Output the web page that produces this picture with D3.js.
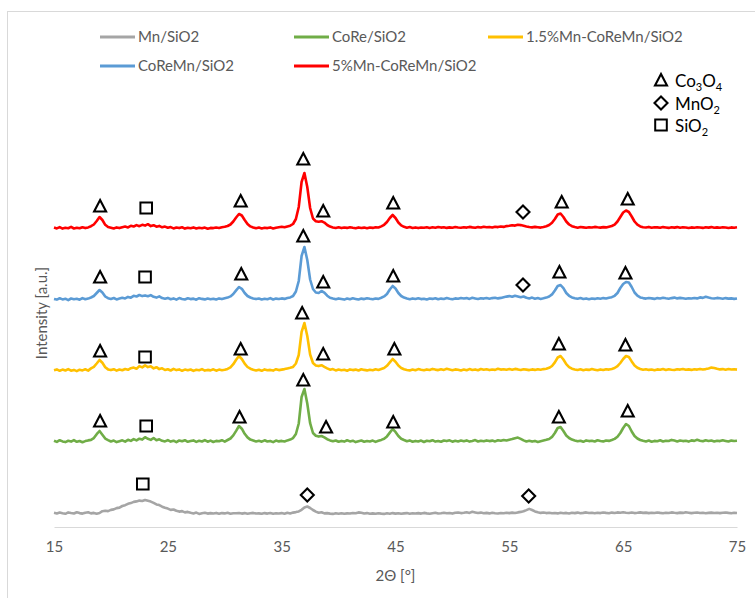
<!DOCTYPE html>
<html>
<head>
<meta charset="utf-8">
<script src="https://cdn.jsdelivr.net/npm/d3@7"></script>
<style>
  body { margin: 0; background: #fff; }
  text { font-family: Lato, "Liberation Sans", sans-serif; }
</style>
</head>
<body>
<svg id="chart" width="755" height="598"></svg>
<script>
// XRD patterns, 2θ from 15° to 75° in 0.25° steps (intensity in a.u.)
const thetaStart = 15;
const thetaStep = 0.25;

const mnSiO2 = [
  14.2, 13.6, 14.5, 13.8, 13.2, 14.6, 14.0, 13.5,
  14.8, 13.9, 13.4, 14.3, 14.7, 13.6, 14.1, 13.3,
  14.0, 15.8, 16.2, 15.9, 17.1, 17.6, 18.9, 19.4,
  21.0, 21.8, 23.2, 23.9, 25.1, 25.6, 26.4, 26.0,
  27.0, 26.2, 25.4, 24.1, 22.6, 21.9, 20.3, 19.2,
  18.4, 17.1, 17.5, 16.2, 15.4, 15.9, 14.6, 15.1,
  14.2, 13.6, 14.4, 13.1, 13.8, 14.3, 13.4, 13.9,
  13.5, 14.1, 13.2, 13.9, 13.6, 14.2, 13.3, 13.8,
  13.7, 14.0, 13.4, 13.9, 13.2, 13.8, 14.1, 13.5,
  13.6, 13.2, 13.9, 13.4, 14.0, 13.3, 13.8, 13.5,
  13.9, 13.3, 14.2, 13.6, 14.4, 14.9, 15.6, 17.2,
  19.6, 20.5, 19.0, 17.0, 15.4, 14.3, 14.8, 13.6,
  13.9, 13.4, 13.1, 13.7, 13.3, 13.8, 13.2, 13.6,
  13.5, 14.0, 13.7, 14.6, 14.2, 13.5, 13.9, 13.3,
  13.6, 13.2, 13.8, 13.4, 13.1, 13.7, 13.3, 13.9,
  13.4, 13.8, 13.2, 13.6, 13.9, 13.3, 13.7, 13.5,
  13.9, 13.4, 14.1, 13.6, 13.3, 13.8, 14.2, 13.5,
  13.8, 14.3, 13.7, 14.0, 13.4, 14.2, 14.5, 13.9,
  14.3, 14.8, 14.1, 15.2, 14.6, 14.0, 14.4, 13.8,
  14.1, 13.6, 14.2, 13.8, 13.5, 14.0, 13.7, 14.3,
  13.9, 14.4, 14.0, 14.6, 15.1, 15.8, 16.9, 18.1,
  17.0, 15.6, 14.7, 14.1, 14.5, 13.9, 14.2, 13.7,
  14.0, 13.6, 14.3, 13.8, 14.1, 13.5, 14.2, 13.9,
  14.4, 13.7, 14.1, 14.6, 14.0, 14.3, 13.8, 14.2,
  13.9, 14.5, 14.1, 13.8, 14.4, 14.0, 14.6, 14.2,
  14.7, 14.3, 14.0, 14.5, 13.9, 14.2, 14.6, 14.1,
  14.4, 13.9, 14.3, 14.0, 14.5, 14.1, 13.8, 14.3,
  14.0, 14.6, 14.2, 13.9, 14.4, 14.1, 14.7, 14.3,
  13.9, 14.2, 14.5, 14.0, 14.3, 13.8, 14.1, 14.4,
  14.0, 14.3, 13.9, 14.2, 14.5, 14.1, 13.8, 14.2, 14.0
];

const coReSiO2 = [
  14.3, 13.1, 14.8, 13.6, 12.9, 14.2, 13.4, 14.9,
  13.2, 14.0, 12.8, 13.9, 14.6, 15.1, 16.9, 20.8,
  24.0, 20.3, 16.4, 14.9, 13.5, 14.4, 12.9, 13.8,
  14.7, 13.3, 15.2, 14.1, 15.9, 14.6, 16.3, 15.4,
  17.8, 16.2, 15.1, 17.0, 14.8, 15.7, 14.2, 13.6,
  14.9, 13.4, 14.3, 12.9, 14.5, 13.7, 14.8, 13.2,
  13.9, 14.6, 13.1, 14.2, 13.5, 14.9, 13.3, 14.4,
  13.0, 14.1, 13.7, 14.8, 13.4, 15.0, 16.5, 19.6,
  24.1, 29.0, 26.3, 21.2, 17.6, 15.4, 14.5, 13.6,
  14.2, 13.3, 14.7, 13.5, 14.0, 12.9, 14.4, 13.6,
  14.1, 13.5, 14.6, 15.4, 16.9, 21.0, 31.5, 58.0,
  66.0, 51.5, 31.8, 22.0, 19.2, 18.4, 19.0, 17.6,
  15.8, 14.6, 13.8, 14.5, 13.2, 14.1, 13.4, 14.7,
  13.6, 14.3, 12.9, 13.8, 14.5, 13.3, 14.0, 13.5,
  14.4, 13.1, 14.2, 15.1, 16.2, 18.6, 22.4, 26.0,
  23.1, 19.0, 16.3, 15.0, 13.8, 14.6, 13.3, 14.1,
  13.5, 14.4, 13.0, 14.2, 13.7, 14.8, 13.4, 14.0,
  13.2, 14.5, 13.9, 14.7, 13.3, 14.2, 13.6, 14.4,
  13.8, 14.6, 13.4, 14.1, 14.9, 13.5, 14.3, 13.7,
  14.6, 13.9, 14.4, 13.6, 14.8, 14.2, 15.0, 14.5,
  15.3, 15.9, 16.8, 17.4, 16.1, 14.6, 13.5, 14.2,
  13.4, 14.1, 13.0, 13.8, 14.5, 15.2, 16.0, 18.1,
  22.0, 27.0, 28.0, 24.0, 19.5, 17.0, 15.4, 14.5,
  13.7, 14.3, 13.2, 14.6, 13.9, 14.2, 13.5, 14.8,
  14.0, 13.6, 14.5, 14.1, 15.0, 16.1, 18.2, 22.0,
  27.0, 31.0, 29.0, 23.5, 19.0, 16.5, 15.0, 14.2,
  13.6, 14.5, 13.3, 14.1, 13.8, 14.7, 13.5, 14.3,
  14.0, 15.1, 14.4, 13.6, 14.5, 13.9, 14.2, 13.4,
  14.6, 14.1, 15.2, 14.3, 13.7, 14.8, 14.0, 14.5,
  13.6, 14.3, 13.9, 14.7, 14.1, 13.5, 14.4, 14.0, 14.2
];

const mn15CoReMnSiO2 = [
  13.8, 14.6, 13.2, 14.4, 13.5, 14.9, 13.3, 14.1,
  12.9, 14.3, 13.6, 14.7, 13.4, 15.6, 17.2, 20.5,
  24.0, 21.2, 16.8, 14.6, 13.9, 14.8, 13.4, 14.5,
  13.7, 15.0, 14.2, 15.8, 16.4, 15.2, 17.9, 16.6,
  18.6, 16.9, 17.7, 15.6, 16.8, 14.9, 15.7, 14.0,
  14.8, 13.5, 15.1, 13.9, 14.6, 13.2, 14.4, 13.7,
  14.5, 13.1, 14.2, 13.8, 14.9, 13.4, 14.1, 13.6,
  14.7, 13.3, 14.4, 13.8, 14.2, 15.1, 16.6, 19.8,
  24.2, 28.0, 25.0, 20.4, 17.0, 15.3, 14.2, 13.5,
  14.3, 13.2, 14.6, 13.7, 14.1, 13.4, 14.8, 13.9,
  14.4, 14.9, 15.6, 16.2, 17.1, 20.5, 29.0, 52.0,
  61.0, 48.0, 29.5, 21.0, 18.6, 17.9, 18.8, 17.2,
  15.7, 14.3, 14.9, 13.6, 14.5, 13.8, 14.2, 13.3,
  14.6, 13.9, 14.4, 13.5, 14.8, 14.1, 13.6, 14.3,
  13.8, 14.7, 14.0, 15.0, 16.0, 18.2, 21.6, 25.0,
  22.3, 18.4, 16.0, 14.7, 14.0, 13.6, 14.5, 13.8,
  14.9, 14.2, 13.7, 14.6, 14.0, 15.1, 14.4, 13.9,
  14.8, 14.1, 15.2, 14.5, 13.8, 14.6, 14.2, 13.5,
  14.4, 13.7, 14.9, 14.0, 14.6, 13.8, 15.0, 14.3,
  14.7, 13.9, 14.5, 14.1, 15.2, 14.4, 14.8, 14.2,
  14.9, 14.3, 15.1, 14.6, 14.0, 14.8, 14.4, 13.9,
  14.6, 14.1, 14.8, 14.3, 14.9, 15.3, 16.2, 18.0,
  21.6, 26.5, 28.0, 24.5, 19.8, 16.9, 15.3, 14.6,
  14.0, 14.7, 13.8, 14.4, 14.1, 14.9, 14.3, 13.7,
  14.6, 14.0, 14.8, 14.4, 15.1, 16.0, 17.8, 21.0,
  25.0, 28.0, 27.0, 22.6, 18.5, 16.2, 15.0, 14.3,
  14.8, 14.1, 14.5, 13.8, 14.6, 14.2, 14.9, 14.0,
  14.7, 14.3, 14.0, 14.8, 14.4, 15.0, 14.2, 14.6,
  14.1, 14.8, 14.4, 15.1, 14.5, 14.9, 15.6, 16.4,
  16.0, 15.2, 14.6, 14.9, 14.3, 15.0, 14.5, 14.8, 14.4
];

const coReMnSiO2 = [
  14.1, 13.4, 14.7, 13.6, 14.3, 12.9, 14.5, 13.8,
  14.2, 13.3, 14.9, 13.7, 14.4, 15.5, 17.0, 20.0,
  23.0, 20.5, 16.5, 14.8, 14.1, 15.0, 13.6, 14.4,
  15.2, 14.6, 16.1, 15.3, 17.2, 16.5, 18.0, 16.9,
  17.6, 16.8, 17.9, 16.2, 15.4, 16.6, 14.9, 14.3,
  15.1, 13.8, 14.6, 13.4, 14.9, 14.0, 13.5, 14.7,
  13.9, 14.4, 13.3, 14.8, 14.1, 13.6, 14.5, 13.8,
  14.3, 13.5, 14.6, 13.9, 14.7, 15.4, 16.6, 19.0,
  22.6, 26.0, 24.2, 20.0, 17.0, 15.5, 14.6, 13.9,
  14.5, 13.6, 14.2, 13.8, 14.9, 13.5, 14.4, 14.0,
  14.6, 14.1, 15.0, 15.6, 17.0, 21.5, 32.0, 57.0,
  66.0, 53.0, 33.5, 24.0, 20.5, 20.0, 22.0, 20.4,
  17.3, 15.2, 14.4, 13.7, 14.6, 14.0, 13.4, 14.5,
  13.8, 14.7, 14.1, 13.5, 14.4, 13.9, 14.8, 14.2,
  13.7, 14.5, 14.1, 15.3, 16.6, 19.0, 23.5, 27.0,
  24.5, 20.0, 17.0, 15.4, 14.4, 13.8, 14.6, 14.0,
  14.7, 13.9, 14.3, 13.6, 14.5, 14.1, 14.8, 13.7,
  14.4, 14.0, 14.9, 14.2, 13.8, 14.6, 14.3, 15.0,
  14.5, 14.9, 14.1, 15.2, 14.6, 14.0, 14.8, 14.4,
  15.0, 14.3, 14.9, 15.3, 14.6, 15.1, 15.8, 16.4,
  16.9, 16.2, 17.3, 16.6, 15.8, 16.5, 15.2, 14.6,
  15.4, 14.3, 14.9, 14.1, 14.7, 15.4, 16.5, 18.6,
  22.5, 27.0, 28.0, 24.8, 20.0, 17.2, 15.6, 14.8,
  14.2, 14.9, 14.0, 14.6, 13.8, 14.5, 14.1, 14.8,
  14.3, 14.9, 14.5, 15.2, 15.8, 17.2, 20.0, 25.0,
  29.0, 31.0, 30.5, 26.0, 20.5, 17.4, 15.6, 14.9,
  14.4, 15.0, 14.6, 14.1, 14.9, 14.5, 15.2, 14.7,
  14.3, 14.9, 15.4, 14.6, 15.1, 14.7, 14.2, 14.8,
  14.5, 15.0, 14.6, 15.6, 15.1, 16.2, 15.4, 14.8,
  14.5, 15.1, 14.7, 14.3, 14.9, 14.4, 14.6, 14.1, 14.5
];

const mn5CoReMnSiO2 = [
  14.5, 13.6, 14.9, 13.4, 14.2, 13.8, 15.1, 13.5,
  14.3, 13.7, 14.8, 13.9, 14.6, 15.8, 17.5, 21.0,
  25.0, 22.0, 17.2, 15.0, 14.3, 13.5, 14.6, 13.9,
  14.8, 15.4, 14.6, 16.2, 15.5, 16.9, 15.8, 17.2,
  16.4, 17.8, 15.9, 16.8, 15.3, 16.1, 14.7, 15.4,
  14.2, 14.9, 13.6, 14.5, 13.9, 14.7, 13.4, 14.3,
  13.8, 14.6, 13.5, 14.2, 13.7, 14.4, 13.3, 14.1,
  13.9, 14.5, 14.0, 14.8, 15.2, 16.0, 17.5, 20.5,
  24.5, 28.0, 26.5, 22.0, 18.0, 15.6, 14.5, 13.8,
  14.4, 13.6, 14.2, 13.9, 14.6, 13.5, 14.3, 14.8,
  15.2, 14.7, 15.6, 16.3, 18.0, 23.0, 35.0, 60.0,
  69.0, 55.0, 34.0, 23.5, 20.8, 20.2, 20.8, 19.4,
  17.0, 15.4, 14.6, 14.0, 14.7, 13.9, 14.5, 14.1,
  14.8, 14.2, 13.7, 14.6, 14.0, 14.4, 13.8, 14.5,
  14.1, 14.8, 14.5, 15.6, 17.2, 20.0, 24.0, 27.0,
  24.0, 19.5, 16.6, 15.2, 14.3, 14.9, 14.0, 14.6,
  13.9, 14.5, 14.2, 14.8, 14.1, 14.7, 14.3, 15.0,
  14.4, 14.8, 14.1, 14.6, 14.3, 15.0, 14.5, 14.2,
  14.8, 14.4, 15.1, 14.6, 14.2, 14.9, 14.5, 15.2,
  14.7, 15.0, 14.5, 15.3, 14.9, 15.5, 15.1, 15.9,
  16.2, 16.8, 16.4, 17.2, 16.9, 16.3, 15.6, 15.0,
  14.6, 15.1, 14.8, 14.4, 15.0, 15.8, 17.0, 19.2,
  23.0, 27.5, 28.5, 25.0, 20.5, 17.5, 15.8, 14.9,
  14.3, 15.0, 14.6, 14.2, 14.8, 14.5, 15.1, 14.7,
  14.4, 14.9, 14.6, 15.3, 16.0, 17.4, 20.5, 25.0,
  29.5, 31.5, 30.0, 25.5, 20.5, 17.3, 15.6, 14.8,
  14.5, 15.1, 14.3, 14.8, 14.6, 14.2, 14.9, 14.5,
  14.1, 14.7, 14.4, 14.9, 14.2, 14.8, 14.5, 14.0,
  14.6, 14.3, 14.8, 14.5, 14.1, 14.7, 14.4, 14.9,
  14.2, 14.6, 14.3, 14.8, 14.5, 14.0, 14.6, 14.3, 14.7
];

// Vertical stacking offset of each pattern (a.u.)
const seriesNames = ["Mn/SiO2", "CoRe/SiO2", "1.5%Mn-CoReMn/SiO2", "CoReMn/SiO2", "5%Mn-CoReMn/SiO2"];
const seriesData = [mnSiO2, coReSiO2, mn15CoReMnSiO2, coReMnSiO2, mn5CoReMnSiO2];
const stackOffsets = [0, 72, 143, 214, 285];
const seriesColors = ["#A5A5A5", "#70AD47", "#FFC000", "#5B9BD5", "#FF0000"];

// Phase assignments: [phase, 2θ, intensity of the symbol] per pattern
const marksMnSiO2 = [["SiO2", 22.8, 43], ["MnO2", 37.25, 32], ["MnO2", 56.7, 31]];
const marksCoReSiO2 = [["Co3O4", 19.05, 34], ["SiO2", 23.1, 29], ["Co3O4", 31.3, 38], ["Co3O4", 36.9, 75],
  ["Co3O4", 38.9, 28], ["Co3O4", 44.8, 33], ["Co3O4", 59.35, 38], ["Co3O4", 65.4, 44]];
const marksMn15 = [["Co3O4", 19.05, 33], ["SiO2", 23.0, 27], ["Co3O4", 31.4, 35], ["Co3O4", 36.8, 71],
  ["Co3O4", 38.65, 30], ["Co3O4", 44.9, 35], ["Co3O4", 59.35, 40], ["Co3O4", 65.2, 39]];
const marksCoReMn = [["Co3O4", 19.05, 36], ["SiO2", 23.0, 36], ["Co3O4", 31.45, 39], ["Co3O4", 36.9, 77],
  ["Co3O4", 38.65, 31], ["Co3O4", 44.8, 37], ["MnO2", 56.2, 28], ["Co3O4", 59.4, 41], ["Co3O4", 65.2, 40]];
const marksMn5 = [["Co3O4", 19.05, 36], ["SiO2", 23.1, 34], ["Co3O4", 31.4, 41], ["Co3O4", 36.9, 83],
  ["Co3O4", 38.65, 31], ["Co3O4", 44.8, 39], ["MnO2", 56.2, 30], ["Co3O4", 59.6, 40], ["Co3O4", 65.4, 43]];
const seriesMarks = [marksMnSiO2, marksCoReSiO2, marksMn15, marksCoReMn, marksMn5];

const phaseKeys = ["Co3O4", "MnO2", "SiO2"];
const phaseLabels = [["Co", "3", "O", "4"], ["MnO", "2"], ["SiO", "2"]];

const xTicks = [15, 25, 35, 45, 55, 65, 75];

// ---------------------------------------------------------------
const svg = d3.select("#chart");
const plot = { left: 54, right: 737, top: 77, bottom: 527 };
const axisGray = "#D9D9D9";
const textGray = "#595959";

// chart frame
svg.append("rect")
  .attr("x", 7.5).attr("y", 11.5).attr("width", 800).attr("height", 700)
  .attr("fill", "none").attr("stroke", axisGray).attr("stroke-width", 1);

const x = d3.scaleLinear().domain([15, 75]).range([plot.left, plot.right]);
const y = d3.scaleLinear().domain([0, 450]).range([plot.bottom, plot.top]);

// x axis
const xAxis = d3.axisBottom(x).tickValues(xTicks).tickSize(0).tickPadding(14).tickFormat(d3.format("d"));
const gx = svg.append("g").attr("transform", `translate(0,${plot.bottom})`).call(xAxis);
gx.select(".domain").attr("stroke", axisGray).attr("stroke-width", 1);
gx.selectAll("text").attr("fill", textGray).style("font-size", "15px").style("font-family", "Lato, 'Liberation Sans', sans-serif");

svg.append("text")
  .attr("x", (plot.left + plot.right) / 2).attr("y", 581)
  .attr("text-anchor", "middle").attr("fill", textGray).style("font-size", "15px")
  .text("2Θ [°]");

svg.append("text")
  .attr("transform", "translate(47,313) rotate(-90)")
  .attr("text-anchor", "middle").attr("fill", textGray).style("font-size", "15px")
  .text("Intensity [a.u.]");

// patterns
const line = d3.line()
  .x((d, i) => x(thetaStart + i * thetaStep))
  .curve(d3.curveLinear);

seriesData.forEach((vals, s) => {
  svg.append("path")
    .datum(vals)
    .attr("fill", "none")
    .attr("stroke", seriesColors[s])
    .attr("stroke-width", 2.6)
    .attr("stroke-linejoin", "round")
    .attr("d", line.y(v => y(v + stackOffsets[s])));
});

// phase symbols
function drawSymbol(g, phase, cx, cy) {
  if (phase === "Co3O4") {
    g.append("path")
      .attr("d", `M${cx},${cy - 6} L${cx + 6},${cy + 5.5} L${cx - 6},${cy + 5.5} Z`)
      .attr("fill", "none").attr("stroke", "#000").attr("stroke-width", 2.1)
      .attr("stroke-linejoin", "miter");
  } else if (phase === "MnO2") {
    g.append("path")
      .attr("d", `M${cx},${cy - 6.5} L${cx + 6.5},${cy} L${cx},${cy + 6.5} L${cx - 6.5},${cy} Z`)
      .attr("fill", "none").attr("stroke", "#000").attr("stroke-width", 2.1);
  } else {
    g.append("rect")
      .attr("x", cx - 5.8).attr("y", cy - 5.5).attr("width", 11.6).attr("height", 11)
      .attr("fill", "none").attr("stroke", "#000").attr("stroke-width", 2);
  }
}

const gMarks = svg.append("g");
seriesMarks.forEach((marks, s) => {
  marks.forEach(([phase, theta, level]) => {
    drawSymbol(gMarks, phase, x(theta), y(level + stackOffsets[s]));
  });
});

// series legend
const legendCols = [100, 294, 488];
const legendRows = [37, 66];
const gLeg = svg.append("g");
seriesNames.forEach((name, s) => {
  const lx = legendCols[s % 3];
  const ly = legendRows[Math.floor(s / 3)];
  gLeg.append("line")
    .attr("x1", lx).attr("x2", lx + 35).attr("y1", ly).attr("y2", ly)
    .attr("stroke", seriesColors[s]).attr("stroke-width", 2.8);
  gLeg.append("text")
    .attr("x", lx + 38).attr("y", ly + 5)
    .attr("fill", textGray).style("font-size", "15px")
    .text(name);
});

// phase legend
const phaseRows = [80, 103, 125];
phaseKeys.forEach((phase, k) => {
  const cy = phaseRows[k];
  drawSymbol(svg, phase, 661, cy);
  const t = svg.append("text")
    .attr("x", 675).attr("y", cy + 7)
    .attr("fill", "#000").style("font-size", "17px");
  phaseLabels[k].forEach((part, j) => {
    const isSub = j % 2 === 1;
    t.append("tspan")
      .attr("dy", isSub ? 4 : (j === 0 ? 0 : -4))
      .style("font-size", isSub ? "11px" : "17px")
      .text(part);
  });
});
</script>
</body>
</html>
